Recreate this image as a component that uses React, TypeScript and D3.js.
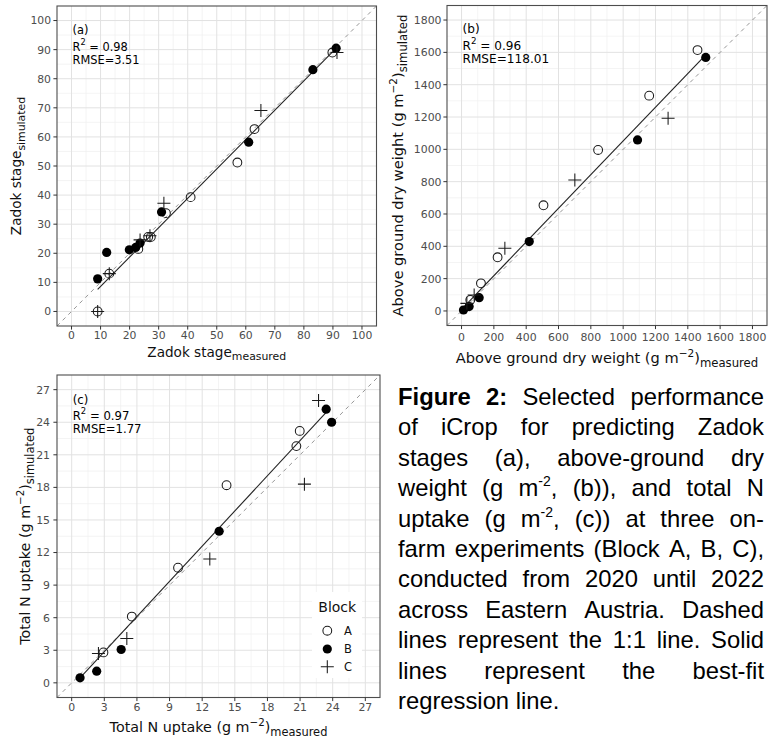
import React, { useMemo } from 'react';
import * as d3 from 'd3';

type Pt = [number, number];

// ---------- Panel (a): Zadok stage ----------
const zadokTicks = [0, 10, 20, 30, 40, 50, 60, 70, 80, 90, 100];
const zadokA: Pt[] = [[9, 0], [13, 13], [23, 21.5], [26.4, 25.6], [27.3, 25.6], [32.5, 33.8], [41, 39.3], [57.1, 51.2], [63, 62.7], [89.8, 89]];
const zadokB: Pt[] = [[9, 11.2], [12.1, 20.3], [19.9, 21.2], [22.1, 22], [23.6, 23.5], [31, 34.2], [61, 58.2], [83.1, 83.1], [91.1, 90.5]];
const zadokC: Pt[] = [[9, 0], [13, 13], [23.6, 24.6], [27, 26], [31.8, 37.2], [65.2, 69.1], [91.4, 89]];
const zadokFitCoef: [number, number] = [-1.5, 1.01];
const zadokFitRange: [number, number] = [9, 91.4];

// ---------- Panel (b): Above ground dry weight ----------
const dryTicks = [0, 200, 400, 600, 800, 1000, 1200, 1400, 1600, 1800];
const dryA: Pt[] = [[1460, 1614], [1161, 1332], [845, 996], [507, 654], [223, 332], [120, 171], [54, 68]];
const dryB: Pt[] = [[1511, 1569], [1089, 1058], [419, 429], [109, 82], [47, 27], [12, 6]];
const dryC: Pt[] = [[1278, 1192], [701, 810], [268, 388], [78, 99], [33, 47]];
const dryFitCoef: [number, number] = [10, 1.042];
const dryFitRange: [number, number] = [12, 1511];

// ---------- Panel (c): Total N uptake ----------
const nTicks = [0, 3, 6, 9, 12, 15, 18, 21, 24, 27];
const nA: Pt[] = [[20.97, 23.2], [20.66, 21.8], [14.24, 18.2], [9.78, 10.6], [5.53, 6.1], [2.92, 2.8]];
const nB: Pt[] = [[23.4, 25.2], [23.9, 24.0], [13.56, 13.96], [4.55, 3.07], [2.3, 1.07], [0.77, 0.46]];
const nC: Pt[] = [[22.7, 26.0], [21.4, 18.3], [12.7, 11.4], [5.07, 4.08], [2.46, 2.7]];
const nFitCoef: [number, number] = [-0.37, 1.08];
const nFitRange: [number, number] = [0.77, 23.4];

const legendTitle = 'Block';
const legendLabels = ['A', 'B', 'C'];

const captionLines = [
  '*Figure* *2:* Selected performance',
  'of iCrop for predicting Zadok',
  'stages (a), above-ground dry',
  'weight (g m^{-2}, (b)), and total N',
  'uptake (g m^{-2}, (c)) at three on-',
  'farm experiments (Block A, B, C),',
  'conducted from 2020 until 2022',
  'across Eastern Austria. Dashed',
  'lines represent the 1:1 line. Solid',
  'lines represent the best-fit',
  'regression line.',
];

const FONT = "'DejaVu Sans', Verdana, sans-serif";
const CAP_FONT = "'Liberation Sans', Arial, sans-serif";

interface Title { main: string; sup?: string; after?: string; sub: string }
interface Panel {
  box: { x0: number; x1: number; y0: number; y1: number };
  domain: [number, number];
  ticks: number[];
  A: Pt[]; B: Pt[]; C: Pt[];
  fitCoef: [number, number]; fitRange: [number, number];
  label: string; r2: string; rmse: string;
  annX: number; annY: [number, number, number]; annSize: number;
  xTitle: Title; yTitle: Title;
  xTitleY: number; yTitleX: number; xTickY: number; yTickX: number;
  titleSize: number; tickSize: number;
}

const panels: Panel[] = [
  {
    box: { x0: 57, x1: 376.5, y0: 6, y1: 326 }, domain: [-5, 105], ticks: zadokTicks,
    A: zadokA, B: zadokB, C: zadokC, fitCoef: zadokFitCoef, fitRange: zadokFitRange,
    label: '(a)', r2: '0.98', rmse: '3.51', annX: 72.5, annY: [34, 50.5, 63.5], annSize: 11.4,
    xTitle: { main: 'Zadok stage', sub: 'measured' }, yTitle: { main: 'Zadok stage', sub: 'simulated' },
    xTitleY: 356.5, yTitleX: 21, xTickY: 339, yTickX: 51, titleSize: 13.6, tickSize: 10.8,
  },
  {
    box: { x0: 447, x1: 767, y0: 5.5, y1: 325.5 }, domain: [-90, 1890], ticks: dryTicks,
    A: dryA, B: dryB, C: dryC, fitCoef: dryFitCoef, fitRange: dryFitRange,
    label: '(b)', r2: '0.96', rmse: '118.01', annX: 462.5, annY: [33, 49.5, 62.5], annSize: 12.1,
    xTitle: { main: 'Above ground dry weight (g m', sup: '−2', after: ')', sub: 'measured' },
    yTitle: { main: 'Above ground dry weight (g m', sup: '−2', after: ')', sub: 'simulated' },
    xTitleY: 363, yTitleX: 402.8, xTickY: 341.3, yTickX: 441.5, titleSize: 14.6, tickSize: 10.9,
  },
  {
    box: { x0: 57, x1: 380, y0: 375, y1: 697.5 }, domain: [-1.35, 28.35], ticks: nTicks,
    A: nA, B: nB, C: nC, fitCoef: nFitCoef, fitRange: nFitRange,
    label: '(c)', r2: '0.97', rmse: '1.77', annX: 72.7, annY: [404, 419.5, 432.7], annSize: 11.7,
    xTitle: { main: 'Total N uptake (g m', sup: '−2', after: ')', sub: 'measured' },
    yTitle: { main: 'Total N uptake (g m', sup: '−2', after: ')', sub: 'simulated' },
    xTitleY: 732, yTitleX: 29.5, xTickY: 711.3, yTickX: 50, titleSize: 14.3, tickSize: 10.9,
  },
];

function TitleText({ t, size }: { t: Title; size: number }) {
  const sub = size * 0.8;
  const sup = size * 0.72;
  return (
    <>
      {t.main}
      {t.sup ? <tspan fontSize={sup} dy={-size * 0.42}>{t.sup}</tspan> : null}
      {t.after ? <tspan dy={size * 0.42}>{t.after}</tspan> : null}
      <tspan fontSize={sub} dy={size * 0.28}>{t.sub}</tspan>
    </>
  );
}

function OpenPt({ x, y }: { x: number; y: number }) {
  return <circle cx={x} cy={y} r={4.4} fill="none" stroke="#1a1a1a" strokeWidth={1.05} />;
}
function FilledPt({ x, y }: { x: number; y: number }) {
  return <circle cx={x} cy={y} r={4.6} fill="#000" />;
}
function PlusPt({ x, y }: { x: number; y: number }) {
  const h = 6.5;
  return <path d={`M${x - h},${y}H${x + h}M${x},${y - h}V${y + h}`} stroke="#1a1a1a" strokeWidth={1.05} />;
}

function PanelView({ p, idx }: { p: Panel; idx: number }) {
  const { box } = p;
  const xs = d3.scaleLinear().domain(p.domain).range([box.x0, box.x1]);
  const ys = d3.scaleLinear().domain(p.domain).range([box.y1, box.y0]);
  const step = p.ticks[1] - p.ticks[0];
  const minor = p.ticks.slice(0, -1).map((t) => t + step / 2);
  const line = d3.line<Pt>().x((d) => xs(d[0])).y((d) => ys(d[1]));
  const fitPts: Pt[] = p.fitRange.map((v) => [v, p.fitCoef[0] + p.fitCoef[1] * v] as Pt);
  const oneToOne: Pt[] = [[p.domain[0], p.domain[0]], [p.domain[1], p.domain[1]]];
  const clipId = `clip-${idx}`;
  return (
    <g>
      <defs>
        <clipPath id={clipId}>
          <rect x={box.x0} y={box.y0} width={box.x1 - box.x0} height={box.y1 - box.y0} />
        </clipPath>
      </defs>
      <rect x={box.x0} y={box.y0} width={box.x1 - box.x0} height={box.y1 - box.y0} fill="#fff" />
      {minor.map((m) => (
        <g key={'m' + m}>
          <line x1={xs(m)} x2={xs(m)} y1={box.y0} y2={box.y1} stroke="#efefef" strokeWidth={0.7} />
          <line y1={ys(m)} y2={ys(m)} x1={box.x0} x2={box.x1} stroke="#efefef" strokeWidth={0.7} />
        </g>
      ))}
      {p.ticks.map((t) => (
        <g key={'g' + t}>
          <line x1={xs(t)} x2={xs(t)} y1={box.y0} y2={box.y1} stroke="#e2e2e2" strokeWidth={1} />
          <line y1={ys(t)} y2={ys(t)} x1={box.x0} x2={box.x1} stroke="#e2e2e2" strokeWidth={1} />
        </g>
      ))}
      <g clipPath={`url(#${clipId})`}>
        <path d={line(oneToOne) || ''} stroke="#8a8a8a" strokeWidth={0.9} strokeDasharray="4 4" fill="none" />
        <path d={line(fitPts) || ''} stroke="#222" strokeWidth={1.1} fill="none" />
        {p.A.map((d, i) => <OpenPt key={'a' + i} x={xs(d[0])} y={ys(d[1])} />)}
        {p.B.map((d, i) => <FilledPt key={'b' + i} x={xs(d[0])} y={ys(d[1])} />)}
        {p.C.map((d, i) => <PlusPt key={'c' + i} x={xs(d[0])} y={ys(d[1])} />)}
      </g>
      <rect x={box.x0} y={box.y0} width={box.x1 - box.x0} height={box.y1 - box.y0} fill="none" stroke="#4d4d4d" strokeWidth={1.1} />
      {p.ticks.map((t) => (
        <g key={'t' + t}>
          <line x1={xs(t)} x2={xs(t)} y1={box.y1} y2={box.y1 + 3.6} stroke="#333" strokeWidth={1} />
          <text x={xs(t)} y={p.xTickY} textAnchor="middle" fontSize={p.tickSize} fill="#4d4d4d" fontFamily={FONT}>{t}</text>
          <line x1={box.x0 - 3.6} x2={box.x0} y1={ys(t)} y2={ys(t)} stroke="#333" strokeWidth={1} />
          <text x={p.yTickX} y={ys(t) + 3.9} textAnchor="end" fontSize={p.tickSize} fill="#4d4d4d" fontFamily={FONT}>{t}</text>
        </g>
      ))}
      <text x={(box.x0 + box.x1) / 2} y={p.xTitleY} textAnchor="middle" fontSize={p.titleSize} fill="#111" fontFamily={FONT}>
        <TitleText t={p.xTitle} size={p.titleSize} />
      </text>
      <text transform={`translate(${p.yTitleX},${(box.y0 + box.y1) / 2}) rotate(-90)`} textAnchor="middle" fontSize={p.titleSize} fill="#111" fontFamily={FONT}>
        <TitleText t={p.yTitle} size={p.titleSize} />
      </text>
      <g fontFamily={FONT} fontSize={p.annSize} fill="#000">
        <text x={p.annX} y={p.annY[0]}>{p.label}</text>
        <text x={p.annX} y={p.annY[1]}>R<tspan fontSize={p.annSize * 0.72} dy={-5.5}>2</tspan><tspan dy={5.5}> = {p.r2}</tspan></text>
        <text x={p.annX} y={p.annY[2]}>RMSE={p.rmse}</text>
      </g>
    </g>
  );
}

function Legend() {
  const keyX = 327.3;
  const labX = 344;
  const rows = [630.7, 649, 666.7];
  return (
    <g fontFamily={FONT}>
      <rect x={312} y={592} width={50} height={86} fill="#fff" />
      <text x={318.3} y={612.3} fontSize={14} fill="#111">{legendTitle}</text>
      <OpenPt x={keyX} y={rows[0]} />
      <FilledPt x={keyX} y={rows[1]} />
      <PlusPt x={keyX} y={rows[2]} />
      {legendLabels.map((l, i) => (
        <text key={l} x={labX} y={rows[i] + 4} fontSize={11.5} fill="#111">{l}</text>
      ))}
    </g>
  );
}

type Seg = { t: string; bold: boolean; sup: boolean };

function parseWord(w: string): Seg[] {
  let bold = false;
  let s = w;
  if (s.startsWith('*') && s.endsWith('*')) { bold = true; s = s.slice(1, -1); }
  const segs: Seg[] = [];
  const re = /\^\{([^}]*)\}/g;
  let last = 0;
  let m: RegExpExecArray | null;
  while ((m = re.exec(s))) {
    if (m.index > last) segs.push({ t: s.slice(last, m.index), bold, sup: false });
    segs.push({ t: m[1], bold, sup: true });
    last = m.index + m[0].length;
  }
  if (last < s.length) segs.push({ t: s.slice(last), bold, sup: false });
  return segs;
}

const CAP_SIZE = 23.8;
const SUP_SIZE = 14;

function Caption() {
  const x0 = 398;
  const x1 = 764;
  const baseline0 = 405;
  const lh = 30.4;
  const layout = useMemo(() => {
    const canvas = typeof document !== 'undefined' ? document.createElement('canvas') : null;
    const ctx = canvas ? canvas.getContext('2d') : null;
    const measure = (seg: Seg) => {
      const size = seg.sup ? SUP_SIZE : CAP_SIZE;
      if (ctx) {
        ctx.font = `${seg.bold ? 'bold ' : ''}${size}px 'Liberation Sans', Arial, sans-serif`;
        return ctx.measureText(seg.t).width;
      }
      return seg.t.length * size * 0.52;
    };
    let spaceW = CAP_SIZE * 0.278;
    if (ctx) {
      ctx.font = `${CAP_SIZE}px 'Liberation Sans', Arial, sans-serif`;
      spaceW = ctx.measureText(' ').width;
    }
    return captionLines.map((ln, li) => {
      const words = ln.split(' ').map(parseWord);
      const widths = words.map((segs) => segs.reduce((a, s) => a + measure(s), 0));
      const total = widths.reduce((a, b) => a + b, 0);
      const justify = li < captionLines.length - 1 && words.length > 1;
      const gap = justify ? (x1 - x0 - total) / (words.length - 1) : spaceW;
      let cx = x0;
      return words.map((segs, wi) => {
        const pos = cx;
        cx += widths[wi] + gap;
        return { segs, x: pos };
      });
    });
  }, []);
  return (
    <g fontFamily={CAP_FONT} fill="#000">
      {layout.map((words, li) => (
        <g key={li}>
          {words.map((w, wi) => (
            <text key={wi} x={w.x} y={baseline0 + li * lh} fontSize={CAP_SIZE}>
              {w.segs.map((s, si) => (
                <tspan
                  key={si}
                  fontWeight={s.bold ? 'bold' : 'normal'}
                  fontSize={s.sup ? SUP_SIZE : CAP_SIZE}
                  dy={s.sup ? -10 : si > 0 && w.segs[si - 1].sup ? 10 : 0}
                >{s.t}</tspan>
              ))}
            </text>
          ))}
        </g>
      ))}
    </g>
  );
}

export default function App() {
  return (
    <svg width={768} height={738} viewBox="0 0 768 738" style={{ position: 'absolute', left: 0, top: 0, background: '#fff' }}>
      <rect x={0} y={0} width={768} height={738} fill="#fff" />
      {panels.map((p, i) => <PanelView key={i} p={p} idx={i} />)}
      <Legend />
      <Caption />
    </svg>
  );
}
